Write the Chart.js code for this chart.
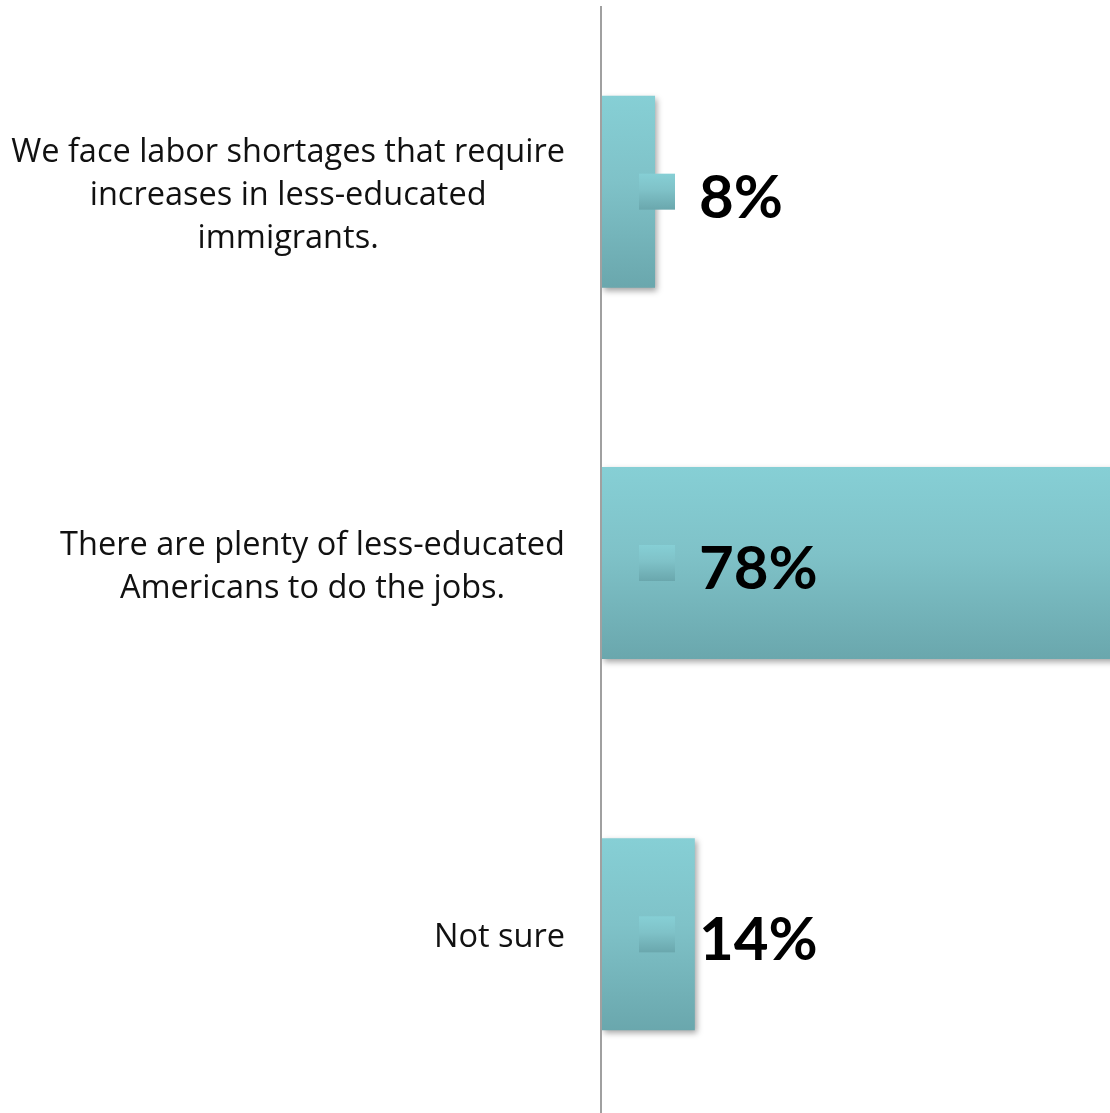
<!DOCTYPE html>
<html><head><meta charset="utf-8">
<script src="https://cdn.jsdelivr.net/npm/chart.js@4.4.1/dist/chart.umd.min.js"></script>
<style>
html,body{margin:0;padding:0;background:#fff;overflow:hidden}
#wrap{width:1110px;height:1113px;overflow:hidden;position:relative;background:#fff}
#c{position:absolute;left:0;top:0}
</style></head>
<body><div id="wrap"><canvas id="c" width="1134" height="1120"></canvas></div>
<script>
// ---- data ----
const categories = [
  ["We face labor shortages that require", "increases in less-educated", "immigrants."],
  ["There are plenty of less-educated", "Americans to do the jobs."],
  ["Not sure"]
];
const values = [8, 78, 14];
const valueLabels = ["8%", "78%", "14%"];

// ---- style ----
const TOP = '#86cfd5', MID = '#7fc2c8', BOT = '#6aa7ad';
const LABEL_FONT = '32.5px "Open Sans", Lato, sans-serif';
const VALUE_FONT = 'bold 60px Lato, "Open Sans", sans-serif';

function vGrad(ctx, y0, y1) {
  const g = ctx.createLinearGradient(0, y0, 0, y1);
  g.addColorStop(0, TOP);
  g.addColorStop(0.45, MID);
  g.addColorStop(1, BOT);
  return g;
}

const barPct = 0.517;

const decor = {
  id: 'decor',
  beforeDatasetsDraw(chart) {
    const ctx = chart.ctx;
    ctx.save();
    ctx.shadowColor = 'rgba(0,0,0,0.35)';
    ctx.shadowBlur = 6;
    ctx.shadowOffsetX = 2;
    ctx.shadowOffsetY = 3;
  },
  afterDatasetsDraw(chart) {
    const ctx = chart.ctx;
    ctx.restore();
    const xs = chart.scales.x;
    const axisX = xs.getPixelForValue(0);
    const area = chart.chartArea;
    // axis line
    ctx.save();
    ctx.fillStyle = '#a0a0a0';
    ctx.fillRect(axisX - 2, area.top, 2, area.bottom - area.top);
    ctx.restore();

    const meta = chart.getDatasetMeta(0);
    meta.data.forEach((el, i) => {
      const cy = el.y;
      // legend-key square
      const sx = axisX + 37, sz = 36;
      ctx.save();
      ctx.fillStyle = vGrad(ctx, cy - sz / 2, cy + sz / 2);
      ctx.fillRect(sx, cy - sz / 2, sz, sz);
      // value text
      ctx.fillStyle = '#000';
      ctx.font = VALUE_FONT;
      ctx.textAlign = 'left';
      ctx.textBaseline = 'alphabetic';
      ctx.fillText(valueLabels[i], axisX + 97, cy + 26);
      ctx.restore();

      // category label block
      const lines = categories[i];
      ctx.save();
      ctx.font = LABEL_FONT;
      ctx.fillStyle = '#111';
      ctx.textAlign = 'center';
      ctx.textBaseline = 'alphabetic';
      const widest = Math.max(...lines.map(l => ctx.measureText(l).width));
      const right = axisX - 37;
      const cx = right - widest / 2;
      const lh = 43;
      const n = lines.length;
      lines.forEach((l, k) => {
        const ly = cy + 3 + (k - (n - 1) / 2) * lh + 10;
        ctx.fillText(l, cx, ly);
      });
      ctx.restore();
    });
  }
};

const ctx = document.getElementById('c').getContext('2d');
new Chart(ctx, {
  type: 'bar',
  data: {
    labels: categories.map(c => c.join(' ')),
    datasets: [{
      data: values,
      barPercentage: barPct,
      categoryPercentage: 1,
      borderWidth: 0,
      backgroundColor: (c) => {
        const ch = c.chart, ys = ch.scales && ch.scales.y;
        if (!ys || !ch.chartArea) return MID;
        const yc = ys.getPixelForValue(c.dataIndex);
        const h = (ys.height / categories.length) * barPct / 2;
        return vGrad(ch.ctx, yc - h, yc + h);
      }
    }]
  },
  options: {
    indexAxis: 'y',
    responsive: false,
    animation: false,
    layout: { padding: { left: 602, top: 6, right: 1.6, bottom: 0 } },
    scales: {
      x: { display: false, min: 0, max: 80 },
      y: { display: false }
    },
    plugins: { legend: { display: false }, tooltip: { enabled: false } }
  },
  plugins: [decor]
});
</script>
</body></html>
